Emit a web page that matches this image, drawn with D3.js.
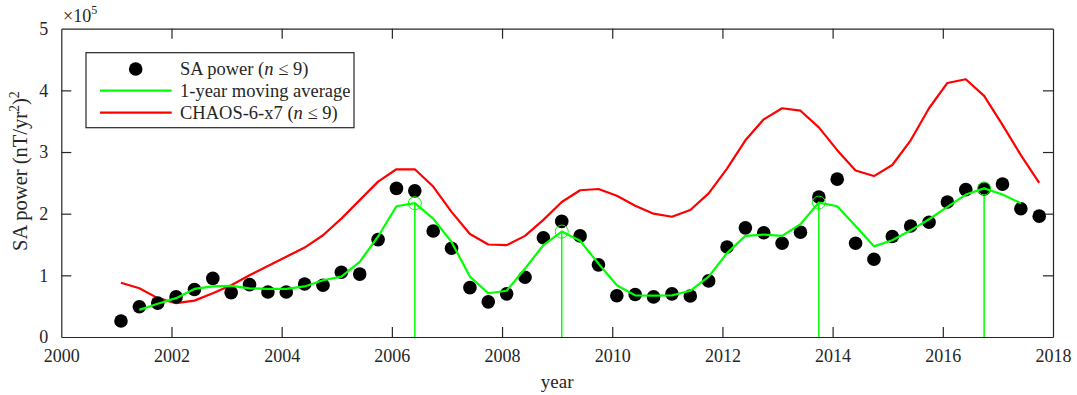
<!DOCTYPE html>
<html>
<head>
<meta charset="utf-8">
<script src="https://cdn.jsdelivr.net/npm/d3@7"></script>
<style>
  html, body { margin: 0; padding: 0; background: #fff; }
  svg { display: block; }
  text { font-family: "Liberation Serif", "DejaVu Serif", serif; fill: #262626; }
</style>
</head>
<body>
<svg id="chart" width="1077" height="395"></svg>
<script>
// ---------- data (values in units of 1e5 (nT/yr^2)^2) ----------
const startYear = 2001 + 1/12;   // first sample epoch
const stepYear = 1/3;            // 4-month spacing

const saPower = [0.26, 0.49, 0.55, 0.65, 0.77, 0.95, 0.72, 0.85, 0.73, 0.73,
                 0.86, 0.84, 1.05, 1.02, 1.58, 2.41, 2.37, 1.72, 1.44, 0.80,
                 0.57, 0.70, 0.97, 1.61, 1.875, 1.64, 1.17, 0.67, 0.69, 0.65,
                 0.70, 0.665, 0.91, 1.46, 1.77, 1.69, 1.52, 1.70, 2.27, 2.56,
                 1.52, 1.26, 1.63, 1.80, 1.86, 2.19, 2.39, 2.40, 2.48, 2.08, 1.96];

// moving average: samples index 1 .. 49
const movingAvgStart = 1;
const movingAvg = [0.44, 0.54, 0.63, 0.78, 0.82, 0.83, 0.79, 0.78, 0.78, 0.82,
                   0.92, 0.98, 1.22, 1.63, 2.12, 2.17, 1.92, 1.54, 0.98, 0.71,
                   0.75, 1.11, 1.49, 1.71, 1.56, 1.19, 0.84, 0.675, 0.67, 0.675,
                   0.75, 0.98, 1.36, 1.64, 1.66, 1.64, 1.83, 2.18, 2.12, 1.80,
                   1.47, 1.57, 1.73, 1.91, 2.11, 2.31, 2.41, 2.31, 2.17];

const chaos = [0.88, 0.79, 0.63, 0.55, 0.59, 0.71, 0.84, 1.00, 1.15, 1.30,
               1.45, 1.65, 1.92, 2.22, 2.52, 2.72, 2.72, 2.44, 2.03, 1.67,
               1.50, 1.49, 1.64, 1.90, 2.19, 2.38, 2.40, 2.29, 2.13, 2.00,
               1.95, 2.06, 2.33, 2.73, 3.19, 3.53, 3.71, 3.67, 3.40, 3.03,
               2.70, 2.61, 2.79, 3.19, 3.71, 4.12, 4.18, 3.91, 3.44, 2.95, 2.50];

// peaks of the moving average (sample indices)
const peakIndices = [16, 24, 38, 47];

const xTicks = [2000, 2002, 2004, 2006, 2008, 2010, 2012, 2014, 2016, 2018];
const yTicks = [0, 1, 2, 3, 4, 5];

const legendLabels = ["SA power (", "1-year moving average", "CHAOS-6-x7 ("];

// ---------- layout ----------
const svg = d3.select("#chart");
const L = 61.3, R = 1053, T = 28.7, B = 337;
const x = d3.scaleLinear().domain([2000, 2018]).range([L, R]);
const y = d3.scaleLinear().domain([0, 5]).range([B, T]);
const axisColor = "#262626";
const green = "#00ff00", red = "#ff0000";
const yr = i => startYear + i * stepYear;

// axes box
const g = svg.append("g");

const xAxis = g.append("g").attr("transform", `translate(0,${B})`)
  .call(d3.axisBottom(x).tickValues(xTicks).tickFormat(d3.format("d")).tickSizeInner(-10).tickSizeOuter(0).tickPadding(12));
const xAxisTop = g.append("g").attr("transform", `translate(0,${T})`)
  .call(d3.axisTop(x).tickValues(xTicks).tickFormat("").tickSizeInner(-10).tickSizeOuter(0));
const yAxis = g.append("g").attr("transform", `translate(${L},0)`)
  .call(d3.axisLeft(y).tickValues(yTicks).tickFormat(d3.format("d")).tickSizeInner(-10).tickSizeOuter(0).tickPadding(13));
const yAxisR = g.append("g").attr("transform", `translate(${R},0)`)
  .call(d3.axisRight(y).tickValues(yTicks).tickFormat("").tickSizeInner(-10).tickSizeOuter(0));

[xAxis, xAxisTop, yAxis, yAxisR].forEach(a => {
  a.select(".domain").attr("stroke", axisColor).attr("stroke-width", 1.2);
  a.selectAll(".tick line").attr("stroke", axisColor).attr("stroke-width", 1.2);
  a.selectAll("text").attr("font-size", 18).attr("font-family", "Liberation Serif").attr("fill", axisColor);
});
xAxis.selectAll(".tick").filter(d => d === 2000 || d === 2018).select("line").remove();
xAxisTop.selectAll(".tick").filter(d => d === 2000 || d === 2018).select("line").remove();
yAxis.selectAll(".tick").filter(d => d === 0 || d === 5).select("line").remove();
yAxisR.selectAll(".tick").filter(d => d === 0 || d === 5).select("line").remove();

// exponent label
const ex = svg.append("text").attr("x", 63).attr("y", 22).attr("font-size", 18);
ex.append("tspan").text("×10");
ex.append("tspan").attr("font-size", 12).attr("dy", -8).text("5");

// axis titles
svg.append("text").attr("x", x(2009)).attr("y", 388).attr("text-anchor", "middle")
  .attr("font-size", 19).text("year");
const yl = svg.append("text").attr("transform", `translate(27,171) rotate(-90)`)
  .attr("text-anchor", "middle").attr("font-size", 20.5);
yl.append("tspan").text("SA power (nT/yr");
yl.append("tspan").attr("font-size", 14).attr("dy", -8).text("2");
yl.append("tspan").attr("dy", 8).text(")");
yl.append("tspan").attr("font-size", 14).attr("dy", -8).text("2");

// ---------- marks ----------
const plot = svg.append("g");

plot.selectAll("line.peak").data(peakIndices).join("line")
  .attr("x1", i => x(yr(i))).attr("x2", i => x(yr(i)))
  .attr("y1", i => y(movingAvg[i - movingAvgStart])).attr("y2", y(0))
  .attr("stroke", green).attr("stroke-width", 1.5);

plot.append("path").datum(chaos)
  .attr("d", d3.line().x((d, i) => x(yr(i))).y(d => y(d)))
  .attr("fill", "none").attr("stroke", red).attr("stroke-width", 2.2).attr("stroke-linejoin", "round");

plot.selectAll("circle.sa").data(saPower).join("circle")
  .attr("cx", (d, i) => x(yr(i))).attr("cy", d => y(d)).attr("r", 6.8).attr("fill", "#000");

plot.append("path").datum(movingAvg)
  .attr("d", d3.line().x((d, i) => x(yr(i + movingAvgStart))).y(d => y(d)))
  .attr("fill", "none").attr("stroke", green).attr("stroke-width", 2.2).attr("stroke-linejoin", "round");

plot.selectAll("circle.peak").data(peakIndices).join("circle")
  .attr("cx", i => x(yr(i))).attr("cy", i => y(movingAvg[i - movingAvgStart]))
  .attr("r", 6.5).attr("fill", "none").attr("stroke", green).attr("stroke-width", 1);

// ---------- legend ----------
const lg = svg.append("g");
lg.append("rect").attr("x", 86).attr("y", 52.7).attr("width", 268).attr("height", 75)
  .attr("fill", "#fff").attr("stroke", axisColor).attr("stroke-width", 1.2);
const rows = [69, 90.7, 112.7];
lg.append("circle").attr("cx", 135.7).attr("cy", rows[0]).attr("r", 6.8).attr("fill", "#000");
lg.append("line").attr("x1", 100).attr("x2", 171.7).attr("y1", rows[1]).attr("y2", rows[1])
  .attr("stroke", green).attr("stroke-width", 2.2);
lg.append("line").attr("x1", 100).attr("x2", 171.7).attr("y1", rows[2]).attr("y2", rows[2])
  .attr("stroke", red).attr("stroke-width", 2.2);

function nLabel(sel) {
  sel.append("tspan").attr("font-style", "italic").text("n");
  sel.append("tspan").text(" ≤ 9)");
}
const t0 = lg.append("text").attr("x", 180).attr("y", rows[0] + 6).attr("font-size", 18.5);
t0.append("tspan").text(legendLabels[0]); nLabel(t0);
lg.append("text").attr("x", 180).attr("y", rows[1] + 6).attr("font-size", 18.5).text(legendLabels[1]);
const t2 = lg.append("text").attr("x", 180).attr("y", rows[2] + 6).attr("font-size", 18.5);
t2.append("tspan").text(legendLabels[2]); nLabel(t2);
</script>
</body>
</html>
